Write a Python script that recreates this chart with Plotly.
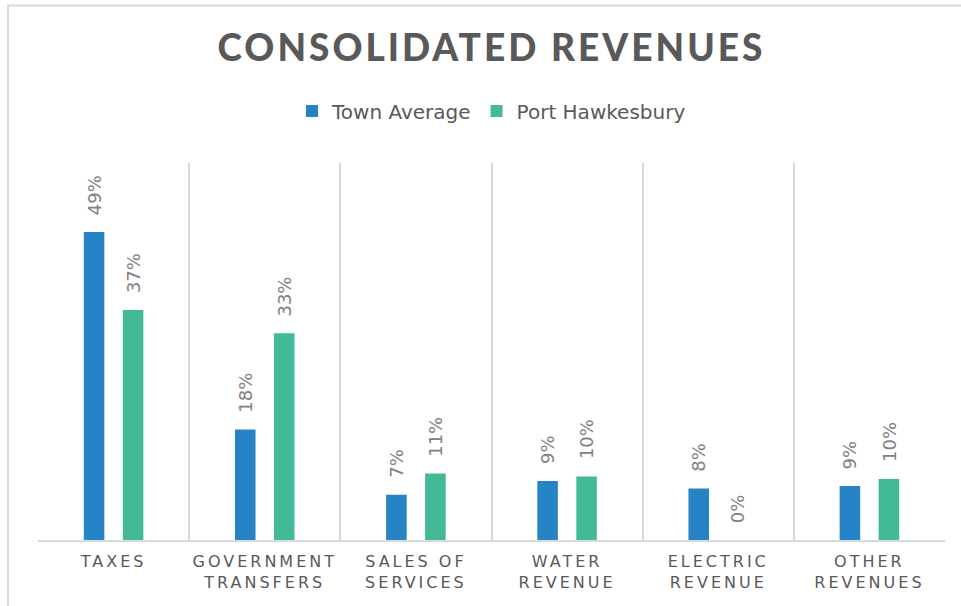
import plotly.graph_objects as go

# Revenue categories (two-line tick labels)
categories = [
    "TAXES",
    "GOVERNMENT<br>TRANSFERS",
    "SALES OF<br>SERVICES",
    "WATER<br>REVENUE",
    "ELECTRIC<br>REVENUE",
    "OTHER<br>REVENUES",
]

# Share of consolidated revenues
town_average = [0.490, 0.176, 0.072, 0.094, 0.082, 0.086]
port_hawkesbury = [0.366, 0.329, 0.106, 0.101, 0.000, 0.097]

series = [
    ("Town Average", town_average, "#2683C6"),
    ("Port Hawkesbury", port_hawkesbury, "#42BA97"),
]

BARGAP = 0.484
BARGROUPGAP = 0.473
GRID = "#D9D9D9"
TEXT = "#595959"
LABEL = "#808080"

fig = go.Figure()
for name, values, color in series:
    fig.add_trace(go.Bar(
        name=name,
        x=categories,
        y=values,
        marker=dict(color=color, line=dict(width=0)),
        hoverinfo="skip",
    ))

# Rotated value labels sitting above each bar
slot = (1 - BARGAP) / len(series)
annotations = []
for s_idx, (name, values, color) in enumerate(series):
    offset = -(1 - BARGAP) / 2 + slot * (s_idx + 0.5)
    for c_idx, v in enumerate(values):
        annotations.append(dict(
            x=c_idx + offset, y=v, xref="x", yref="y",
            text=f"{v:.0%}", showarrow=False,
            textangle=-90, xanchor="center", yanchor="bottom",
            yshift=15,
            font=dict(family="DejaVu Sans", size=18, color=LABEL),
        ))

fig.update_layout(
    width=961, height=606, autosize=False,
    margin=dict(l=38, r=16, t=163, b=66),
    paper_bgcolor="white", plot_bgcolor="white",
    barmode="group", bargap=BARGAP, bargroupgap=BARGROUPGAP,
    title=dict(
        text="CONSOLIDATED REVENUES",
        x=0.5, xref="paper", xanchor="center",
        y=1 - 48.5 / 606, yref="container", yanchor="middle",
        font=dict(family="Lato", size=37, color=TEXT, weight=900),
    ),
    legend=dict(
        orientation="h",
        x=0.5, xref="paper", xanchor="center",
        y=1 - 111 / 606, yref="container", yanchor="middle",
        font=dict(family="DejaVu Sans", size=20, color=TEXT),
        itemwidth=30,
        traceorder="normal",
    ),
    xaxis=dict(
        type="category",
        tickson="boundaries",
        showgrid=True, gridcolor=GRID, gridwidth=2,
        showline=True, linecolor=GRID, linewidth=2,
        ticks="",
        ticklabelstandoff=6,
        tickfont=dict(family="DejaVu Sans", size=16, color=TEXT),
        fixedrange=True,
    ),
    yaxis=dict(
        range=[0, 0.6],
        showgrid=False, zeroline=False, showline=False,
        showticklabels=False, ticks="",
        fixedrange=True,
    ),
    annotations=annotations,
    showlegend=True,
)

# Chart frame (top and left edges visible inside the page)
fig.add_shape(
    type="rect", xref="paper", yref="paper",
    x0=(8 - 38) / 907, x1=(990 - 38) / 907,
    y0=(540 - 640) / 377, y1=(540 - 5.5) / 377,
    line=dict(color=GRID, width=2), fillcolor="rgba(0,0,0,0)",
    layer="below",
)

# Wide letter spacing for the title and category labels
spacing_css = (
    "var s=document.createElement('style');"
    "s.textContent='.xtick text{letter-spacing:3px}.gtitle{letter-spacing:3px}';"
    "document.head.appendChild(s);"
)

fig.write_html("out.html", config={"displayModeBar": False}, post_script=spacing_css)
